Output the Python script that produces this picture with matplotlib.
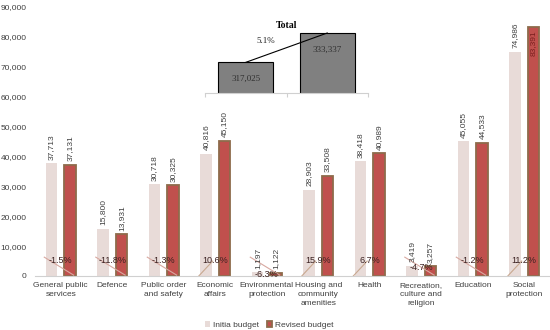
import numpy as np
import matplotlib.pyplot as plt

# -------------------------------------------------
# Data
# -------------------------------------------------
categories = [
    "General public\nservices", "Defence", "Public order\nand safety",
    "Economic\naffairs", "Environmental\nprotection",
    "Housing and\ncommunity\namenities", "Health",
    "Recreation,\nculture and\nreligion", "Education", "Social\nprotection",
]
initial = [37713, 15800, 30718, 40816, 1197, 28903, 38418, 3419, 45055, 74986]
revised = [37131, 13931, 30325, 45150, 1122, 33508, 40989, 3257, 44533, 83391]
pct_change = [-1.5, -11.8, -1.3, 10.6, -6.3, 15.9, 6.7, -4.7, -1.2, 11.2]

total_labels = ["Initial", "Revised"]
totals = [317025, 333337]
total_pct = 5.1

C_INIT = "#e8dbd8"
C_REV = "#c0504d"
C_REV_EDGE = "#8e6b4b"
TXT = "#404040"
FONT = "Liberation Sans"

plt.rcParams["font.family"] = FONT

fig = plt.figure(figsize=(5.5, 3.3), dpi=100)
ax = fig.add_axes([35 / 550, 54 / 330, 515 / 550, 269 / 330])

x = np.arange(len(categories))
w = 0.23
off = 0.18

ax.bar(x - off, initial, w, color=C_INIT, label="Initia budget")
ax.bar(x + off, revised, w, color=C_REV, edgecolor=C_REV_EDGE,
       linewidth=1.3, label="Revised budget")

# value labels
for xi, v in zip(x, initial):
    ax.text(xi - off, v + 1200, f"{v:,}", rotation=90, ha="center",
            va="bottom", fontsize=6, color=TXT)
for xi, v in zip(x, revised):
    if v > 80000:
        ax.text(xi + off, v - 1200, f"{v:,}", rotation=90, ha="center",
                va="top", fontsize=6, color="#7a1f1f")
    else:
        ax.text(xi + off, v + 1200, f"{v:,}", rotation=90, ha="center",
                va="bottom", fontsize=6, color=TXT)

# percent change: small slope lines + label
for xi, p, r in zip(x, pct_change, revised):
    if p < 0:
        ax.plot([xi - 0.32, xi + 0.25], [6300, 300], color="#d8a8a0", lw=0.8)
    else:
        ax.plot([xi - 0.32, xi - 0.05], [0, 5000], color="#c8a890", lw=0.8)
    ax.text(xi, min(5300, r - 500), f"{p}%", ha="center", va="center",
            fontsize=6.5, color="#3a2020")

ax.set_xlim(-0.5, len(categories) - 0.5)
ax.set_ylim(0, 90000)
ax.set_yticks(np.arange(0, 90001, 10000))
ax.set_yticklabels([f"{t:,}" for t in range(0, 90001, 10000)])
ax.set_xticks(x)
ax.set_xticklabels(categories, fontsize=6, color=TXT, linespacing=1.4)
ax.tick_params(axis="y", labelsize=6, length=0, labelcolor=TXT, pad=6)
ax.tick_params(axis="x", length=0, pad=4)
for s in ["top", "right", "left"]:
    ax.spines[s].set_visible(False)
ax.spines["bottom"].set_color("#d0d0d0")

ax.legend(loc="lower center", bbox_to_anchor=(0.455, -0.225), ncol=2,
          frameon=False, fontsize=6, handlelength=0.6, handleheight=0.6,
          handletextpad=0.3, columnspacing=1.0, labelcolor=TXT)

# -------------------------------------------------
# Inset: Total
# -------------------------------------------------
ins = fig.add_axes([205 / 550, 237 / 330, 163 / 550, 63 / 330])
xt = np.arange(len(totals))
ins.bar(xt, totals, 0.68, color="#808080", edgecolor="black", linewidth=0.8)
ins.plot(xt, totals, color="black", lw=0.8)
ins.text(xt[0], totals[0] - 9000, f"{totals[0]:,}", ha="center", va="center",
         fontsize=6.5, color="#303030", family="Liberation Serif")
ins.text(xt[1], totals[1] - 9500, f"{totals[1]:,}", ha="center", va="center",
         fontsize=6.5, color="#303030", family="Liberation Serif")
ins.text(0.25, 326500, f"{total_pct}%", ha="center", va="bottom",
         fontsize=6.5, color="#202020", family="Liberation Serif")
ins.set_title("Total", fontsize=7, fontweight="bold", family="Liberation Serif",
              pad=1)
ins.set_xlim(-0.5, 1.5)
ins.set_ylim(300000, 335000)
ins.set_xticks([-0.5, 0.5, 1.5])
ins.set_xticklabels([])
ins.set_yticks([])
ins.tick_params(axis="x", length=3, color="#d0d0d0")
for s in ["top", "right", "left"]:
    ins.spines[s].set_visible(False)
ins.spines["bottom"].set_color("#d0d0d0")
ins.patch.set_alpha(0)

fig.savefig("out.png", dpi=100)
